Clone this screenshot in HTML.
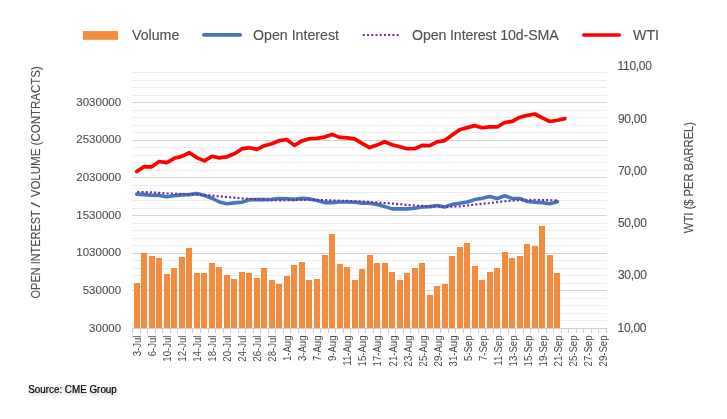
<!DOCTYPE html>
<html><head><meta charset="utf-8"><style>
html,body{margin:0;padding:0;background:#fff;width:727px;height:419px;overflow:hidden}
svg{display:block;will-change:transform}
</style></head><body>
<svg width="727" height="419" viewBox="0 0 727 419">
<rect width="727" height="419" fill="#fff"/>
<rect x="132" y="320" width="474.5" height="1" fill="#EDEDED"/>
<rect x="132" y="313" width="474.5" height="1" fill="#EDEDED"/>
<rect x="132" y="305" width="474.5" height="1" fill="#EDEDED"/>
<rect x="132" y="298" width="474.5" height="1" fill="#EDEDED"/>
<rect x="132" y="290" width="474.5" height="1" fill="#D4D4D4"/>
<rect x="132" y="283" width="474.5" height="1" fill="#EDEDED"/>
<rect x="132" y="275" width="474.5" height="1" fill="#EDEDED"/>
<rect x="132" y="268" width="474.5" height="1" fill="#EDEDED"/>
<rect x="132" y="260" width="474.5" height="1" fill="#EDEDED"/>
<rect x="132" y="253" width="474.5" height="1" fill="#D4D4D4"/>
<rect x="132" y="245" width="474.5" height="1" fill="#EDEDED"/>
<rect x="132" y="238" width="474.5" height="1" fill="#EDEDED"/>
<rect x="132" y="230" width="474.5" height="1" fill="#EDEDED"/>
<rect x="132" y="223" width="474.5" height="1" fill="#EDEDED"/>
<rect x="132" y="215" width="474.5" height="1" fill="#D4D4D4"/>
<rect x="132" y="208" width="474.5" height="1" fill="#EDEDED"/>
<rect x="132" y="200" width="474.5" height="1" fill="#EDEDED"/>
<rect x="132" y="192" width="474.5" height="1" fill="#EDEDED"/>
<rect x="132" y="185" width="474.5" height="1" fill="#EDEDED"/>
<rect x="132" y="177" width="474.5" height="1" fill="#D4D4D4"/>
<rect x="132" y="170" width="474.5" height="1" fill="#EDEDED"/>
<rect x="132" y="162" width="474.5" height="1" fill="#EDEDED"/>
<rect x="132" y="155" width="474.5" height="1" fill="#EDEDED"/>
<rect x="132" y="147" width="474.5" height="1" fill="#EDEDED"/>
<rect x="132" y="140" width="474.5" height="1" fill="#D4D4D4"/>
<rect x="132" y="132" width="474.5" height="1" fill="#EDEDED"/>
<rect x="132" y="125" width="474.5" height="1" fill="#EDEDED"/>
<rect x="132" y="117" width="474.5" height="1" fill="#EDEDED"/>
<rect x="132" y="110" width="474.5" height="1" fill="#EDEDED"/>
<rect x="132" y="102" width="474.5" height="1" fill="#D4D4D4"/>
<rect x="132" y="95" width="474.5" height="1" fill="#EDEDED"/>
<rect x="132" y="87" width="474.5" height="1" fill="#EDEDED"/>
<rect x="132" y="80" width="474.5" height="1" fill="#EDEDED"/>
<rect x="132" y="72" width="474.5" height="1" fill="#EDEDED"/>
<rect x="134" y="283" width="6" height="45" fill="#F58B3E"/>
<rect x="141" y="253" width="6" height="75" fill="#F58B3E"/>
<rect x="149" y="256" width="6" height="72" fill="#F58B3E"/>
<rect x="156" y="258" width="6" height="70" fill="#F58B3E"/>
<rect x="164" y="274" width="6" height="54" fill="#F58B3E"/>
<rect x="171" y="268" width="6" height="60" fill="#F58B3E"/>
<rect x="179" y="257" width="6" height="71" fill="#F58B3E"/>
<rect x="186" y="248" width="6" height="80" fill="#F58B3E"/>
<rect x="194" y="273" width="6" height="55" fill="#F58B3E"/>
<rect x="201" y="273" width="6" height="55" fill="#F58B3E"/>
<rect x="209" y="263" width="6" height="65" fill="#F58B3E"/>
<rect x="216" y="267" width="6" height="61" fill="#F58B3E"/>
<rect x="224" y="275" width="6" height="53" fill="#F58B3E"/>
<rect x="231" y="279" width="6" height="49" fill="#F58B3E"/>
<rect x="239" y="272" width="6" height="56" fill="#F58B3E"/>
<rect x="246" y="273" width="6" height="55" fill="#F58B3E"/>
<rect x="254" y="278" width="6" height="50" fill="#F58B3E"/>
<rect x="261" y="268" width="6" height="60" fill="#F58B3E"/>
<rect x="269" y="280" width="6" height="48" fill="#F58B3E"/>
<rect x="276" y="284" width="6" height="44" fill="#F58B3E"/>
<rect x="284" y="276" width="6" height="52" fill="#F58B3E"/>
<rect x="291" y="265" width="6" height="63" fill="#F58B3E"/>
<rect x="299" y="262" width="6" height="66" fill="#F58B3E"/>
<rect x="306" y="280" width="6" height="48" fill="#F58B3E"/>
<rect x="314" y="279" width="6" height="49" fill="#F58B3E"/>
<rect x="322" y="255" width="6" height="73" fill="#F58B3E"/>
<rect x="329" y="234" width="6" height="94" fill="#F58B3E"/>
<rect x="337" y="264" width="6" height="64" fill="#F58B3E"/>
<rect x="344" y="267" width="6" height="61" fill="#F58B3E"/>
<rect x="352" y="280" width="6" height="48" fill="#F58B3E"/>
<rect x="359" y="269" width="6" height="59" fill="#F58B3E"/>
<rect x="367" y="255" width="6" height="73" fill="#F58B3E"/>
<rect x="374" y="263" width="6" height="65" fill="#F58B3E"/>
<rect x="382" y="263" width="6" height="65" fill="#F58B3E"/>
<rect x="389" y="272" width="6" height="56" fill="#F58B3E"/>
<rect x="397" y="280" width="6" height="48" fill="#F58B3E"/>
<rect x="404" y="273" width="6" height="55" fill="#F58B3E"/>
<rect x="412" y="268" width="6" height="60" fill="#F58B3E"/>
<rect x="419" y="263" width="6" height="65" fill="#F58B3E"/>
<rect x="427" y="295" width="6" height="33" fill="#F58B3E"/>
<rect x="434" y="286" width="6" height="42" fill="#F58B3E"/>
<rect x="442" y="284" width="6" height="44" fill="#F58B3E"/>
<rect x="449" y="256" width="6" height="72" fill="#F58B3E"/>
<rect x="457" y="247" width="6" height="81" fill="#F58B3E"/>
<rect x="464" y="243" width="6" height="85" fill="#F58B3E"/>
<rect x="472" y="266" width="6" height="62" fill="#F58B3E"/>
<rect x="479" y="280" width="6" height="48" fill="#F58B3E"/>
<rect x="487" y="272" width="6" height="56" fill="#F58B3E"/>
<rect x="494" y="268" width="6" height="60" fill="#F58B3E"/>
<rect x="502" y="252" width="6" height="76" fill="#F58B3E"/>
<rect x="509" y="258" width="6" height="70" fill="#F58B3E"/>
<rect x="517" y="256" width="6" height="72" fill="#F58B3E"/>
<rect x="524" y="244" width="6" height="84" fill="#F58B3E"/>
<rect x="532" y="246" width="6" height="82" fill="#F58B3E"/>
<rect x="539" y="226" width="6" height="102" fill="#F58B3E"/>
<rect x="547" y="255" width="6" height="73" fill="#F58B3E"/>
<rect x="554" y="273" width="6" height="55" fill="#F58B3E"/>
<rect x="132" y="328" width="474.5" height="1" fill="#CECECE"/>
<rect x="132" y="328" width="1" height="5" fill="#CECECE"/>
<rect x="140" y="328" width="1" height="5" fill="#CECECE"/>
<rect x="147" y="328" width="1" height="5" fill="#CECECE"/>
<rect x="155" y="328" width="1" height="5" fill="#CECECE"/>
<rect x="162" y="328" width="1" height="5" fill="#CECECE"/>
<rect x="170" y="328" width="1" height="5" fill="#CECECE"/>
<rect x="177" y="328" width="1" height="5" fill="#CECECE"/>
<rect x="185" y="328" width="1" height="5" fill="#CECECE"/>
<rect x="192" y="328" width="1" height="5" fill="#CECECE"/>
<rect x="200" y="328" width="1" height="5" fill="#CECECE"/>
<rect x="208" y="328" width="1" height="5" fill="#CECECE"/>
<rect x="215" y="328" width="1" height="5" fill="#CECECE"/>
<rect x="223" y="328" width="1" height="5" fill="#CECECE"/>
<rect x="230" y="328" width="1" height="5" fill="#CECECE"/>
<rect x="238" y="328" width="1" height="5" fill="#CECECE"/>
<rect x="245" y="328" width="1" height="5" fill="#CECECE"/>
<rect x="253" y="328" width="1" height="5" fill="#CECECE"/>
<rect x="260" y="328" width="1" height="5" fill="#CECECE"/>
<rect x="268" y="328" width="1" height="5" fill="#CECECE"/>
<rect x="275" y="328" width="1" height="5" fill="#CECECE"/>
<rect x="283" y="328" width="1" height="5" fill="#CECECE"/>
<rect x="290" y="328" width="1" height="5" fill="#CECECE"/>
<rect x="298" y="328" width="1" height="5" fill="#CECECE"/>
<rect x="305" y="328" width="1" height="5" fill="#CECECE"/>
<rect x="313" y="328" width="1" height="5" fill="#CECECE"/>
<rect x="320" y="328" width="1" height="5" fill="#CECECE"/>
<rect x="328" y="328" width="1" height="5" fill="#CECECE"/>
<rect x="335" y="328" width="1" height="5" fill="#CECECE"/>
<rect x="343" y="328" width="1" height="5" fill="#CECECE"/>
<rect x="350" y="328" width="1" height="5" fill="#CECECE"/>
<rect x="358" y="328" width="1" height="5" fill="#CECECE"/>
<rect x="365" y="328" width="1" height="5" fill="#CECECE"/>
<rect x="373" y="328" width="1" height="5" fill="#CECECE"/>
<rect x="380" y="328" width="1" height="5" fill="#CECECE"/>
<rect x="388" y="328" width="1" height="5" fill="#CECECE"/>
<rect x="395" y="328" width="1" height="5" fill="#CECECE"/>
<rect x="403" y="328" width="1" height="5" fill="#CECECE"/>
<rect x="410" y="328" width="1" height="5" fill="#CECECE"/>
<rect x="418" y="328" width="1" height="5" fill="#CECECE"/>
<rect x="425" y="328" width="1" height="5" fill="#CECECE"/>
<rect x="433" y="328" width="1" height="5" fill="#CECECE"/>
<rect x="440" y="328" width="1" height="5" fill="#CECECE"/>
<rect x="448" y="328" width="1" height="5" fill="#CECECE"/>
<rect x="455" y="328" width="1" height="5" fill="#CECECE"/>
<rect x="463" y="328" width="1" height="5" fill="#CECECE"/>
<rect x="470" y="328" width="1" height="5" fill="#CECECE"/>
<rect x="478" y="328" width="1" height="5" fill="#CECECE"/>
<rect x="485" y="328" width="1" height="5" fill="#CECECE"/>
<rect x="493" y="328" width="1" height="5" fill="#CECECE"/>
<rect x="500" y="328" width="1" height="5" fill="#CECECE"/>
<rect x="508" y="328" width="1" height="5" fill="#CECECE"/>
<rect x="515" y="328" width="1" height="5" fill="#CECECE"/>
<rect x="523" y="328" width="1" height="5" fill="#CECECE"/>
<rect x="530" y="328" width="1" height="5" fill="#CECECE"/>
<rect x="538" y="328" width="1" height="5" fill="#CECECE"/>
<rect x="546" y="328" width="1" height="5" fill="#CECECE"/>
<rect x="553" y="328" width="1" height="5" fill="#CECECE"/>
<rect x="561" y="328" width="1" height="5" fill="#CECECE"/>
<rect x="568" y="328" width="1" height="5" fill="#CECECE"/>
<rect x="576" y="328" width="1" height="5" fill="#CECECE"/>
<rect x="583" y="328" width="1" height="5" fill="#CECECE"/>
<rect x="591" y="328" width="1" height="5" fill="#CECECE"/>
<rect x="598" y="328" width="1" height="5" fill="#CECECE"/>
<rect x="606" y="328" width="1" height="5" fill="#CECECE"/>
<polyline points="136.72,194.1 144.24,194.6 151.75,195.2 159.26,195.4 166.77,196.8 174.28,195.7 181.79,194.9 189.3,194.6 196.81,193.5 204.32,195.4 211.83,198.2 219.35,202 226.86,203.7 234.37,202.9 241.88,202.3 249.39,199.8 256.9,199.6 264.41,199.6 271.92,199.4 279.43,198.5 286.94,198.7 294.46,199.4 301.97,198.4 309.48,198.9 316.99,200.6 324.5,202.6 332.01,202.6 339.52,202 347.03,202 354.54,202.2 362.06,203.1 369.57,203.3 377.08,204.4 384.59,206.4 392.1,208.9 399.61,208.9 407.12,208.9 414.63,208.2 422.14,207 429.65,206.6 437.16,205.5 444.68,207 452.19,204.4 459.7,203.3 467.21,202 474.72,199.6 482.23,198.3 489.74,196.5 497.25,198.5 504.76,195.7 512.27,198.5 519.79,198.5 527.3,201.5 534.81,202.3 542.32,202.6 549.83,203.7 557.34,201.7" fill="none" stroke="#4676BC" stroke-width="3.6" stroke-linejoin="round" stroke-linecap="round"/>
<polyline points="136.72,191.92 144.24,192.15 151.75,192.39 159.26,192.91 166.77,193.42 174.28,193.76 181.79,194.1 189.3,194.37 196.81,194.63 204.32,194.88 211.83,195.57 219.35,196.3 226.86,197.04 234.37,197.72 241.88,198.41 249.39,199.01 256.9,199.41 264.41,199.8 271.92,200.16 279.43,200.39 286.94,200.2 294.46,200.02 301.97,199.83 309.48,199.89 316.99,199.99 324.5,200.09 332.01,200.38 339.52,200.68 347.03,200.86 354.54,201.16 362.06,201.5 369.57,202 377.08,202.51 384.59,202.99 392.1,203.54 399.61,204.22 407.12,204.9 414.63,205.53 422.14,205.91 429.65,206.28 437.16,206.49 444.68,206.63 452.19,206.6 459.7,206.38 467.21,205.47 474.72,204.56 482.23,203.78 489.74,203.03 497.25,202.09 504.76,201.27 512.27,200.63 519.79,200.08 527.3,199.94 534.81,199.8 542.32,200 549.83,200.2 557.34,200.4" fill="none" stroke="#7030A0" stroke-width="2.2" stroke-dasharray="2.1 2.08" stroke-dashoffset="3.58"/>
<polyline points="136.72,171.5 144.24,166.6 151.75,166.8 159.26,161.5 166.77,162.7 174.28,158.3 181.79,156.4 189.3,152.7 196.81,157.6 204.32,160.9 211.83,156.3 219.35,157.9 226.86,156.8 234.37,153.8 241.88,148.9 249.39,147.7 256.9,149.4 264.41,145.7 271.92,143.8 279.43,140.5 286.94,139.7 294.46,145.4 301.97,140.9 309.48,138.7 316.99,138.4 324.5,137.1 332.01,134.4 339.52,137.4 347.03,137.8 354.54,138.9 362.06,143.4 369.57,147.6 377.08,145.1 384.59,141.7 392.1,144.7 399.61,146.7 407.12,148.75 414.63,148.75 422.14,145.4 429.65,145.6 437.16,141.8 444.68,140.6 452.19,135.1 459.7,129.7 467.21,127.6 474.72,125.6 482.23,127.75 489.74,126.9 497.25,126.9 504.76,122.5 512.27,121.4 519.79,117.2 527.3,115.4 534.81,114 542.32,117.9 549.83,121.5 557.34,120.2 564.85,118.6" fill="none" stroke="#FF0000" stroke-width="3.7" stroke-linejoin="round" stroke-linecap="round"/>
<rect x="83" y="31.1" width="35" height="8.7" fill="#F58B3E"/>
<line x1="203.8" y1="34.9" x2="240.3" y2="34.9" stroke="#4676BC" stroke-width="3.6" stroke-linecap="round"/>
<line x1="362.8" y1="35" x2="399" y2="35" stroke="#7030A0" stroke-width="2" stroke-dasharray="2 2.23"/>
<line x1="583.8" y1="34.9" x2="619.3" y2="34.9" stroke="#FF0000" stroke-width="3.5" stroke-linecap="round"/>
<text x="132" y="39.8" font-size="14.2" font-family="Liberation Sans" fill="#505050" stroke="#505050" stroke-width="0.12">Volume</text>
<text x="253" y="39.8" font-size="14.2" font-family="Liberation Sans" fill="#505050" stroke="#505050" stroke-width="0.12">Open Interest</text>
<text x="412" y="39.8" font-size="14.2" letter-spacing="-0.12" font-family="Liberation Sans" fill="#505050" stroke="#505050" stroke-width="0.12">Open Interest 10d-SMA</text>
<text x="633" y="39.8" font-size="14.2" font-family="Liberation Sans" fill="#505050" stroke="#505050" stroke-width="0.12">WTI</text>
<text x="121.1" y="332" font-size="11.5" text-anchor="end" font-family="Liberation Sans" fill="#505050" stroke="#505050" stroke-width="0.12">30000</text>
<text x="121.1" y="294" font-size="11.5" text-anchor="end" font-family="Liberation Sans" fill="#505050" stroke="#505050" stroke-width="0.12">530000</text>
<text x="121.1" y="256" font-size="11.5" text-anchor="end" font-family="Liberation Sans" fill="#505050" stroke="#505050" stroke-width="0.12">1030000</text>
<text x="121.1" y="219" font-size="11.5" text-anchor="end" font-family="Liberation Sans" fill="#505050" stroke="#505050" stroke-width="0.12">1530000</text>
<text x="121.1" y="181" font-size="11.5" text-anchor="end" font-family="Liberation Sans" fill="#505050" stroke="#505050" stroke-width="0.12">2030000</text>
<text x="121.1" y="143" font-size="11.5" text-anchor="end" font-family="Liberation Sans" fill="#505050" stroke="#505050" stroke-width="0.12">2530000</text>
<text x="121.1" y="106" font-size="11.5" text-anchor="end" font-family="Liberation Sans" fill="#505050" stroke="#505050" stroke-width="0.12">3030000</text>
<text x="617.6" y="332" font-size="12" letter-spacing="-0.3" font-family="Liberation Sans" fill="#505050" stroke="#505050" stroke-width="0.12">10,00</text>
<text x="618.0" y="279" font-size="12" letter-spacing="-0.3" font-family="Liberation Sans" fill="#505050" stroke="#505050" stroke-width="0.12">30,00</text>
<text x="618.0" y="227" font-size="12" letter-spacing="-0.3" font-family="Liberation Sans" fill="#505050" stroke="#505050" stroke-width="0.12">50,00</text>
<text x="618.0" y="175" font-size="12" letter-spacing="-0.3" font-family="Liberation Sans" fill="#505050" stroke="#505050" stroke-width="0.12">70,00</text>
<text x="618.0" y="123" font-size="12" letter-spacing="-0.3" font-family="Liberation Sans" fill="#505050" stroke="#505050" stroke-width="0.12">90,00</text>
<text x="617.6" y="70" font-size="12" letter-spacing="-0.3" font-family="Liberation Sans" fill="#505050" stroke="#505050" stroke-width="0.12">110,00</text>
<text transform="translate(141.12,335.5) rotate(-90) scale(0.96,1)" font-size="10" text-anchor="end" font-family="Liberation Sans" fill="#4A4A4A">3-Jul</text>
<text transform="translate(156.15,335.5) rotate(-90) scale(0.96,1)" font-size="10" text-anchor="end" font-family="Liberation Sans" fill="#4A4A4A">6-Jul</text>
<text transform="translate(171.17,335.5) rotate(-90) scale(0.96,1)" font-size="10" text-anchor="end" font-family="Liberation Sans" fill="#4A4A4A">10-Jul</text>
<text transform="translate(186.19,335.5) rotate(-90) scale(0.96,1)" font-size="10" text-anchor="end" font-family="Liberation Sans" fill="#4A4A4A">12-Jul</text>
<text transform="translate(201.21,335.5) rotate(-90) scale(0.96,1)" font-size="10" text-anchor="end" font-family="Liberation Sans" fill="#4A4A4A">14-Jul</text>
<text transform="translate(216.23,335.5) rotate(-90) scale(0.96,1)" font-size="10" text-anchor="end" font-family="Liberation Sans" fill="#4A4A4A">18-Jul</text>
<text transform="translate(231.26,335.5) rotate(-90) scale(0.96,1)" font-size="10" text-anchor="end" font-family="Liberation Sans" fill="#4A4A4A">20-Jul</text>
<text transform="translate(246.28,335.5) rotate(-90) scale(0.96,1)" font-size="10" text-anchor="end" font-family="Liberation Sans" fill="#4A4A4A">24-Jul</text>
<text transform="translate(261.3,335.5) rotate(-90) scale(0.96,1)" font-size="10" text-anchor="end" font-family="Liberation Sans" fill="#4A4A4A">26-Jul</text>
<text transform="translate(276.32,335.5) rotate(-90) scale(0.96,1)" font-size="10" text-anchor="end" font-family="Liberation Sans" fill="#4A4A4A">28-Jul</text>
<text transform="translate(291.34,335.5) rotate(-90) scale(0.96,1)" font-size="10" text-anchor="end" font-family="Liberation Sans" fill="#4A4A4A">1-Aug</text>
<text transform="translate(306.37,335.5) rotate(-90) scale(0.96,1)" font-size="10" text-anchor="end" font-family="Liberation Sans" fill="#4A4A4A">3-Aug</text>
<text transform="translate(321.39,335.5) rotate(-90) scale(0.96,1)" font-size="10" text-anchor="end" font-family="Liberation Sans" fill="#4A4A4A">7-Aug</text>
<text transform="translate(336.41,335.5) rotate(-90) scale(0.96,1)" font-size="10" text-anchor="end" font-family="Liberation Sans" fill="#4A4A4A">9-Aug</text>
<text transform="translate(351.43,335.5) rotate(-90) scale(0.96,1)" font-size="10" text-anchor="end" font-family="Liberation Sans" fill="#4A4A4A">11-Aug</text>
<text transform="translate(366.45,335.5) rotate(-90) scale(0.96,1)" font-size="10" text-anchor="end" font-family="Liberation Sans" fill="#4A4A4A">15-Aug</text>
<text transform="translate(381.48,335.5) rotate(-90) scale(0.96,1)" font-size="10" text-anchor="end" font-family="Liberation Sans" fill="#4A4A4A">17-Aug</text>
<text transform="translate(396.5,335.5) rotate(-90) scale(0.96,1)" font-size="10" text-anchor="end" font-family="Liberation Sans" fill="#4A4A4A">21-Aug</text>
<text transform="translate(411.52,335.5) rotate(-90) scale(0.96,1)" font-size="10" text-anchor="end" font-family="Liberation Sans" fill="#4A4A4A">23-Aug</text>
<text transform="translate(426.54,335.5) rotate(-90) scale(0.96,1)" font-size="10" text-anchor="end" font-family="Liberation Sans" fill="#4A4A4A">25-Aug</text>
<text transform="translate(441.56,335.5) rotate(-90) scale(0.96,1)" font-size="10" text-anchor="end" font-family="Liberation Sans" fill="#4A4A4A">29-Aug</text>
<text transform="translate(456.59,335.5) rotate(-90) scale(0.96,1)" font-size="10" text-anchor="end" font-family="Liberation Sans" fill="#4A4A4A">31-Aug</text>
<text transform="translate(471.61,335.5) rotate(-90) scale(0.96,1)" font-size="10" text-anchor="end" font-family="Liberation Sans" fill="#4A4A4A">5-Sep</text>
<text transform="translate(486.63,335.5) rotate(-90) scale(0.96,1)" font-size="10" text-anchor="end" font-family="Liberation Sans" fill="#4A4A4A">7-Sep</text>
<text transform="translate(501.65,335.5) rotate(-90) scale(0.96,1)" font-size="10" text-anchor="end" font-family="Liberation Sans" fill="#4A4A4A">11-Sep</text>
<text transform="translate(516.67,335.5) rotate(-90) scale(0.96,1)" font-size="10" text-anchor="end" font-family="Liberation Sans" fill="#4A4A4A">13-Sep</text>
<text transform="translate(531.7,335.5) rotate(-90) scale(0.96,1)" font-size="10" text-anchor="end" font-family="Liberation Sans" fill="#4A4A4A">15-Sep</text>
<text transform="translate(546.72,335.5) rotate(-90) scale(0.96,1)" font-size="10" text-anchor="end" font-family="Liberation Sans" fill="#4A4A4A">19-Sep</text>
<text transform="translate(561.74,335.5) rotate(-90) scale(0.96,1)" font-size="10" text-anchor="end" font-family="Liberation Sans" fill="#4A4A4A">21-Sep</text>
<text transform="translate(576.76,335.5) rotate(-90) scale(0.96,1)" font-size="10" text-anchor="end" font-family="Liberation Sans" fill="#4A4A4A">25-Sep</text>
<text transform="translate(591.78,335.5) rotate(-90) scale(0.96,1)" font-size="10" text-anchor="end" font-family="Liberation Sans" fill="#4A4A4A">27-Sep</text>
<text transform="translate(606.81,335.5) rotate(-90) scale(0.96,1)" font-size="10" text-anchor="end" font-family="Liberation Sans" fill="#4A4A4A">29-Sep</text>
<text transform="translate(40.4,298.4) rotate(-90)" font-size="12.3" textLength="88.2" lengthAdjust="spacingAndGlyphs" font-family="Liberation Sans" fill="#505050" stroke="#505050" stroke-width="0.12">OPEN INTEREST</text>
<text transform="translate(40.4,207.6) rotate(-90)" font-size="12.3" textLength="5.4" lengthAdjust="spacingAndGlyphs" font-family="Liberation Sans" fill="#505050" stroke="#505050" stroke-width="0.12">/</text>
<text transform="translate(40.4,197.3) rotate(-90)" font-size="12.3" textLength="131.2" lengthAdjust="spacingAndGlyphs" font-family="Liberation Sans" fill="#505050" stroke="#505050" stroke-width="0.12">VOLUME (CONTRACTS)</text>
<text transform="translate(692.6,177.55) rotate(-90) scale(0.91,1)" font-size="12.3" text-anchor="middle" font-family="Liberation Sans" fill="#505050" stroke="#505050" stroke-width="0.12">WTI ($ PER BARREL)</text>
<defs><filter id="sh" x="-10%" y="-50%" width="120%" height="200%"><feDropShadow dx="0" dy="2" stdDeviation="1.2" flood-color="#000" flood-opacity="0.25"/></filter></defs>
<text transform="translate(28.2,393.1) scale(0.93,1)" font-size="10.6" font-family="Liberation Sans" fill="#000" stroke="#000" stroke-width="0.2" filter="url(#sh)">Source: CME Group</text>
</svg>
</body></html>
